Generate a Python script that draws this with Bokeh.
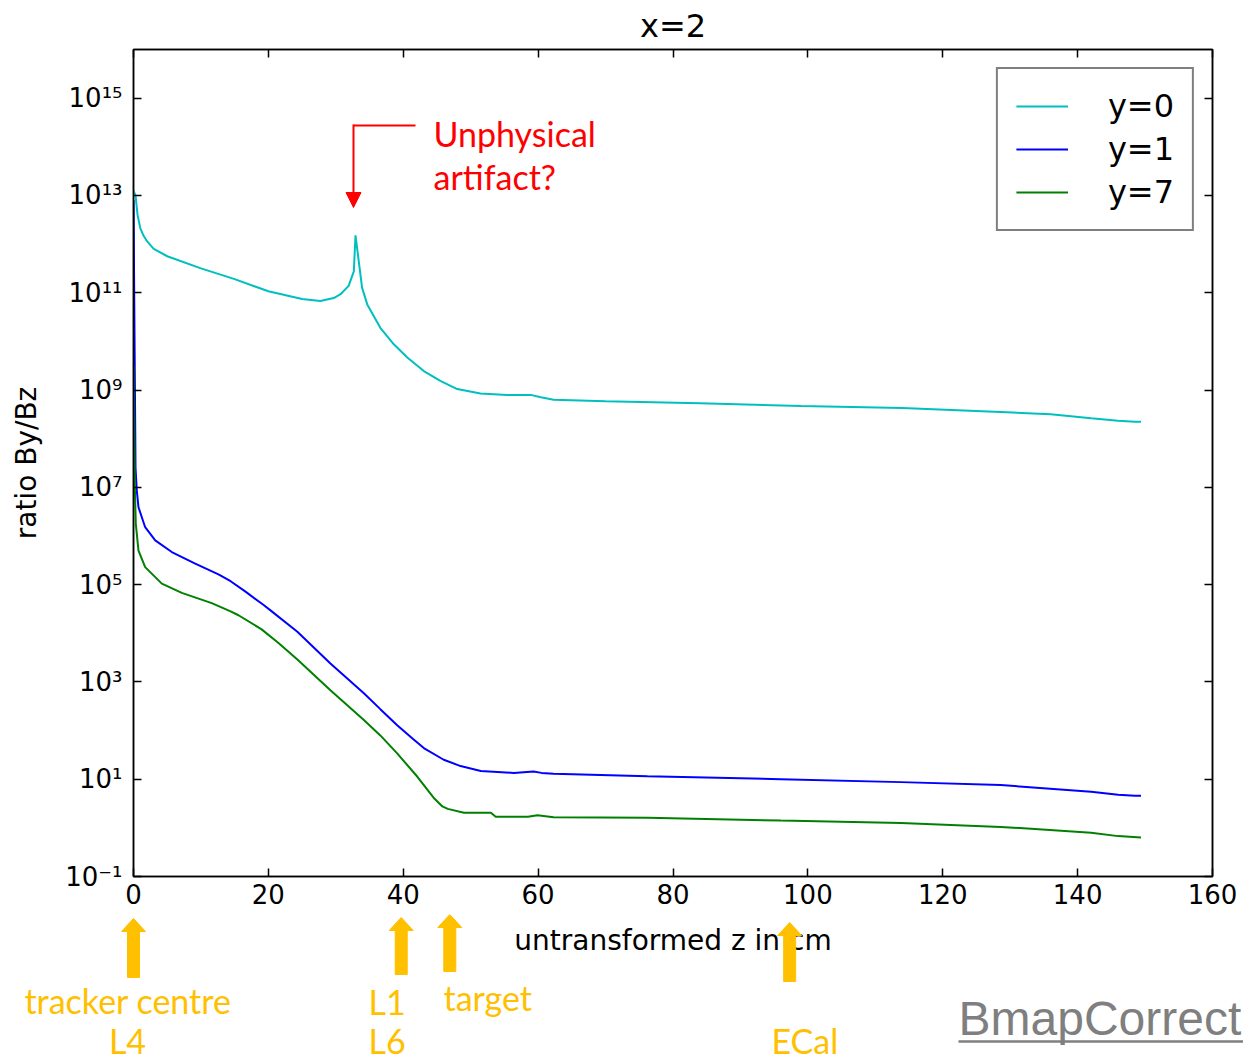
import numpy as np
from bokeh.plotting import figure
from bokeh.layouts import column
from bokeh.models import (FixedTicker, CustomJSTickFormatter, LogAxis, LinearAxis,
                          Label, Arrow, NormalHead, Range1d)
from bokeh.core.properties import value
from bokeh.embed import file_html
from bokeh.resources import INLINE

# ---------------- data ----------------
series_names = ["y=0", "y=1", "y=7"]

z_y0 = [0.0, 0.3, 0.6, 1.0, 1.5, 2.0, 3.0, 5.0, 10.0, 15.0, 20.0, 25.0, 27.7, 29.7, 30.7,
        31.9, 32.67, 32.92, 33.4, 33.9, 34.66, 36.6, 38.6, 40.6, 43.05, 45.5, 48.0, 51.45,
        55.4, 58.9, 60.4, 62.3, 70.0, 84.0, 99.0, 114.0, 128.6, 136.0, 142.0, 146.0,
        148.5, 149.4]
log_ratio_y0 = [13.1, 13.0, 12.6, 12.33, 12.17, 12.06, 11.9, 11.75, 11.5, 11.28, 11.03,
                10.87, 10.83, 10.89, 10.97, 11.14, 11.44, 12.18, 11.65, 11.10, 10.76, 10.28,
                9.94, 9.67, 9.39, 9.19, 9.02, 8.93, 8.90, 8.90, 8.85, 8.80, 8.77, 8.73,
                8.67, 8.63, 8.55, 8.50, 8.42, 8.37, 8.35, 8.35]

z_y1 = [0.0, 0.3, 0.49, 0.74, 1.73, 3.22, 5.68, 9.15, 12.6, 14.4, 16.56, 19.3, 20.5,
        24.3, 29.2, 34.2, 36.6, 39.1, 41.5, 43.05, 46.0, 48.5, 51.5, 56.4, 59.3, 60.5,
        62.3, 76.2, 96.0, 113.8, 128.6, 142.0, 146.0, 148.5, 149.4]
log_ratio_y1 = [12.9, 7.4, 6.93, 6.59, 6.18, 5.91, 5.67, 5.43, 5.21, 5.07, 4.86, 4.58,
                4.45, 4.03, 3.38, 2.76, 2.44, 2.11, 1.82, 1.64, 1.40, 1.27, 1.17, 1.13,
                1.16, 1.13, 1.11, 1.06, 1.0, 0.94, 0.88, 0.74, 0.68, 0.66, 0.66]

z_y7 = [0.0, 0.2, 0.34, 0.74, 1.73, 4.2, 7.16, 11.6, 14.4, 15.57, 19.0, 21.5, 24.3, 29.2,
        34.2, 36.6, 39.1, 42.1, 43.6, 44.5, 45.8, 46.6, 49.0, 53.0, 53.7, 58.5, 59.9,
        62.3, 76.3, 96.0, 113.8, 128.6, 142.0, 146.0, 149.4]
log_ratio_y7 = [9.5, 7.0, 6.25, 5.70, 5.36, 5.02, 4.83, 4.62, 4.45, 4.37, 4.08, 3.80, 3.46,
                2.83, 2.21, 1.90, 1.53, 1.05, 0.78, 0.62, 0.44, 0.39, 0.31, 0.31, 0.23,
                0.23, 0.26, 0.22, 0.21, 0.15, 0.10, 0.02, -0.10, -0.17, -0.2]

x_ticks = [0, 20, 40, 60, 80, 100, 120, 140, 160]
y_tick_exponents = [-1, 1, 3, 5, 7, 9, 11, 13, 15]

# detector markers below the axis (z in cm)
marker_z = [0.0, 39.7, 46.9, 97.3]

# ---------------- layout constants ----------------
W, H_MAIN = 1243, 914
H_BOT = 1061 - H_MAIN
F_LEFT, F_RIGHT, F_TOP, F_BOTTOM = 133, 1212, 47, 876
FONT = "DejaVu Sans"

p = figure(width=W, height=H_MAIN, x_range=(0, 160), y_range=(1e-1, 1e16),
           y_axis_type="log", output_backend="svg", toolbar_location=None,
           min_border_left=F_LEFT, min_border_right=W - F_RIGHT,
           min_border_top=F_TOP, min_border_bottom=H_MAIN - F_BOTTOM,
           frame_align=False)
p.grid.visible = False
p.outline_line_color = "black"
p.outline_line_width = 1.5
p.background_fill_color = "white"
p.border_fill_color = "white"

p.title.text = "x=2"
p.title.align = "center"
p.title.text_font = FONT
p.title.text_font_size = "32px"
p.title.text_font_style = "normal"
p.title.text_color = "black"
p.title.standoff = 9

colors = ["#00BFBF", "#0000FF", "#008000"]
for zs, lv, c, name in [(z_y0, log_ratio_y0, colors[0], series_names[0]),
                        (z_y1, log_ratio_y1, colors[1], series_names[1]),
                        (z_y7, log_ratio_y7, colors[2], series_names[2])]:
    p.line(zs, np.power(10.0, lv), line_color=c, line_width=2, legend_label=name)

y_ticks = [10.0 ** e for e in y_tick_exponents]
sup_code = """
const sup = {'-':'\u207b','0':'\u2070','1':'\u00b9','2':'\u00b2','3':'\u00b3','4':'\u2074',
             '5':'\u2075','6':'\u2076','7':'\u2077','8':'\u2078','9':'\u2079'};
const e = Math.round(Math.log10(tick));
return '10' + String(e).split('').map(c => sup[c]).join('');
"""

def style_axis(ax):
    ax.axis_line_color = "black"
    ax.axis_line_width = 1.5
    ax.major_tick_line_color = "black"
    ax.major_tick_line_width = 1.5
    ax.major_tick_in = 8
    ax.major_tick_out = 0
    ax.minor_tick_in = 0
    ax.minor_tick_out = 0
    ax.major_label_text_font = FONT
    ax.major_label_text_font_size = "26px"
    ax.major_label_text_color = "black"
    ax.axis_label_text_font = FONT
    ax.axis_label_text_font_size = "28px"
    ax.axis_label_text_font_style = "normal"
    ax.axis_label_text_color = "black"

xa = p.xaxis[0]
xa.ticker = FixedTicker(ticks=x_ticks, minor_ticks=[])
style_axis(xa)
xa.major_label_standoff = 7

ya = p.yaxis[0]
ya.ticker = FixedTicker(ticks=y_ticks, minor_ticks=[])
ya.formatter = CustomJSTickFormatter(code=sup_code)
ya.axis_label = "ratio By/Bz"
style_axis(ya)
ya.major_label_standoff = 11
ya.axis_label_standoff = 19

top_ax = LinearAxis(ticker=FixedTicker(ticks=x_ticks, minor_ticks=[]),
                    formatter=CustomJSTickFormatter(code="return ''"))
style_axis(top_ax)
top_ax.major_label_text_font_size = "0px"
top_ax.major_label_standoff = 0
p.add_layout(top_ax, "above")
right_ax = LogAxis(ticker=FixedTicker(ticks=y_ticks, minor_ticks=[]),
                   formatter=CustomJSTickFormatter(code="return ''"))
style_axis(right_ax)
right_ax.major_label_text_font_size = "0px"
right_ax.major_label_standoff = 0
p.add_layout(right_ax, "right")

# legend
lg = p.legend[0]
lg.location = "top_right"
lg.margin = 18
lg.border_line_color = "black"
lg.border_line_width = 2
lg.background_fill_color = "white"
lg.background_fill_alpha = 1
lg.label_text_font = FONT
lg.label_text_font_size = "32px"
lg.label_text_color = "black"
lg.glyph_width = 52
lg.glyph_height = 36
lg.label_height = 36
lg.label_standoff = 40
lg.padding = 18
lg.spacing = 5

# red annotation inside the frame (frame-relative screen coordinates)
RED = "#FF0000"
p.add_layout(Arrow(x_start=282, y_start=751, x_end=220, y_end=751,
                   start_units="screen", end_units="screen", end=None,
                   line_color=RED, line_width=2))
p.add_layout(Arrow(x_start=220, y_start=752, x_end=220, y_end=669,
                   start_units="screen", end_units="screen",
                   end=NormalHead(size=15, fill_color=RED, line_color=RED),
                   line_color=RED, line_width=2))
for txt, yy in [("Unphysical", 743), ("artifact?", 700)]:
    p.add_layout(Label(x=300, y=yy, x_units="screen", y_units="screen", text=txt,
                       text_font="Lato", text_font_size="34px", text_color=RED,
                       text_align="left", text_baseline="middle"))

# ---------------- strip below the chart (pixel coordinates, y downward) ----------------
p2 = figure(width=W, height=H_BOT, x_range=Range1d(0, W), y_range=Range1d(H_BOT, 0),
            output_backend="svg", toolbar_location=None,
            x_axis_location=None, y_axis_location=None,
            min_border_left=0, min_border_right=0, min_border_top=0, min_border_bottom=0,
            frame_align=False)
p2.grid.visible = False
p2.outline_line_color = None
p2.background_fill_color = "white"
p2.border_fill_color = "white"

def zx(z):
    return F_LEFT + z * (F_RIGHT - F_LEFT) / 160.0

# x-axis title (drawn first so that the ECal arrow lies over it, as in the original)
p2.text(x=[(F_LEFT + F_RIGHT) / 2], y=[26], text=["untransformed z in cm"],
        text_font=value(FONT), text_font_size="28px", text_color="black",
        text_align="center", text_baseline="middle")

ORANGE = "#FFC000"
arrow_tips = [4, 3, 0, 8]
arrow_tails = [63, 60, 57, 67]
hw, hh, sw = 24, 13, 12
xs_list, ys_list = [], []
for zz, ty, by in zip(marker_z, arrow_tips, arrow_tails):
    cx = zx(zz)
    xs_list.append([cx, cx + hw / 2, cx + sw / 2, cx + sw / 2, cx - sw / 2, cx - sw / 2, cx - hw / 2])
    ys_list.append([ty, ty + hh, ty + hh, by, by, ty + hh, ty + hh])
p2.patches(xs_list, ys_list, fill_color=ORANGE, line_color=ORANGE, line_width=1)

for txt, xx, yy, al in [("tracker centre", 127.5, 86, "center"), ("L4", 127, 126, "center"),
                        ("L1", 368, 87, "left"), ("L6", 368, 126, "left"),
                        ("target", 443, 83, "left"), ("ECal", 771, 126, "left")]:
    p2.add_layout(Label(x=xx, y=yy, text=txt, text_font="Lato", text_font_size="34px",
                        text_color=ORANGE, text_align=al, text_baseline="middle"))

GREY = "#7F7F7F"
p2.add_layout(Label(x=958, y=104, text="BmapCorrect", text_font="Liberation Sans",
                    text_font_size="48px", text_color=GREY, text_align="left",
                    text_baseline="middle"))
p2.segment(x0=[958], y0=[127], x1=[W], y1=[127], line_color=GREY, line_width=2.5)

layout = column(p, p2, spacing=0)
open("out.html", "w").write(file_html(layout, INLINE))
